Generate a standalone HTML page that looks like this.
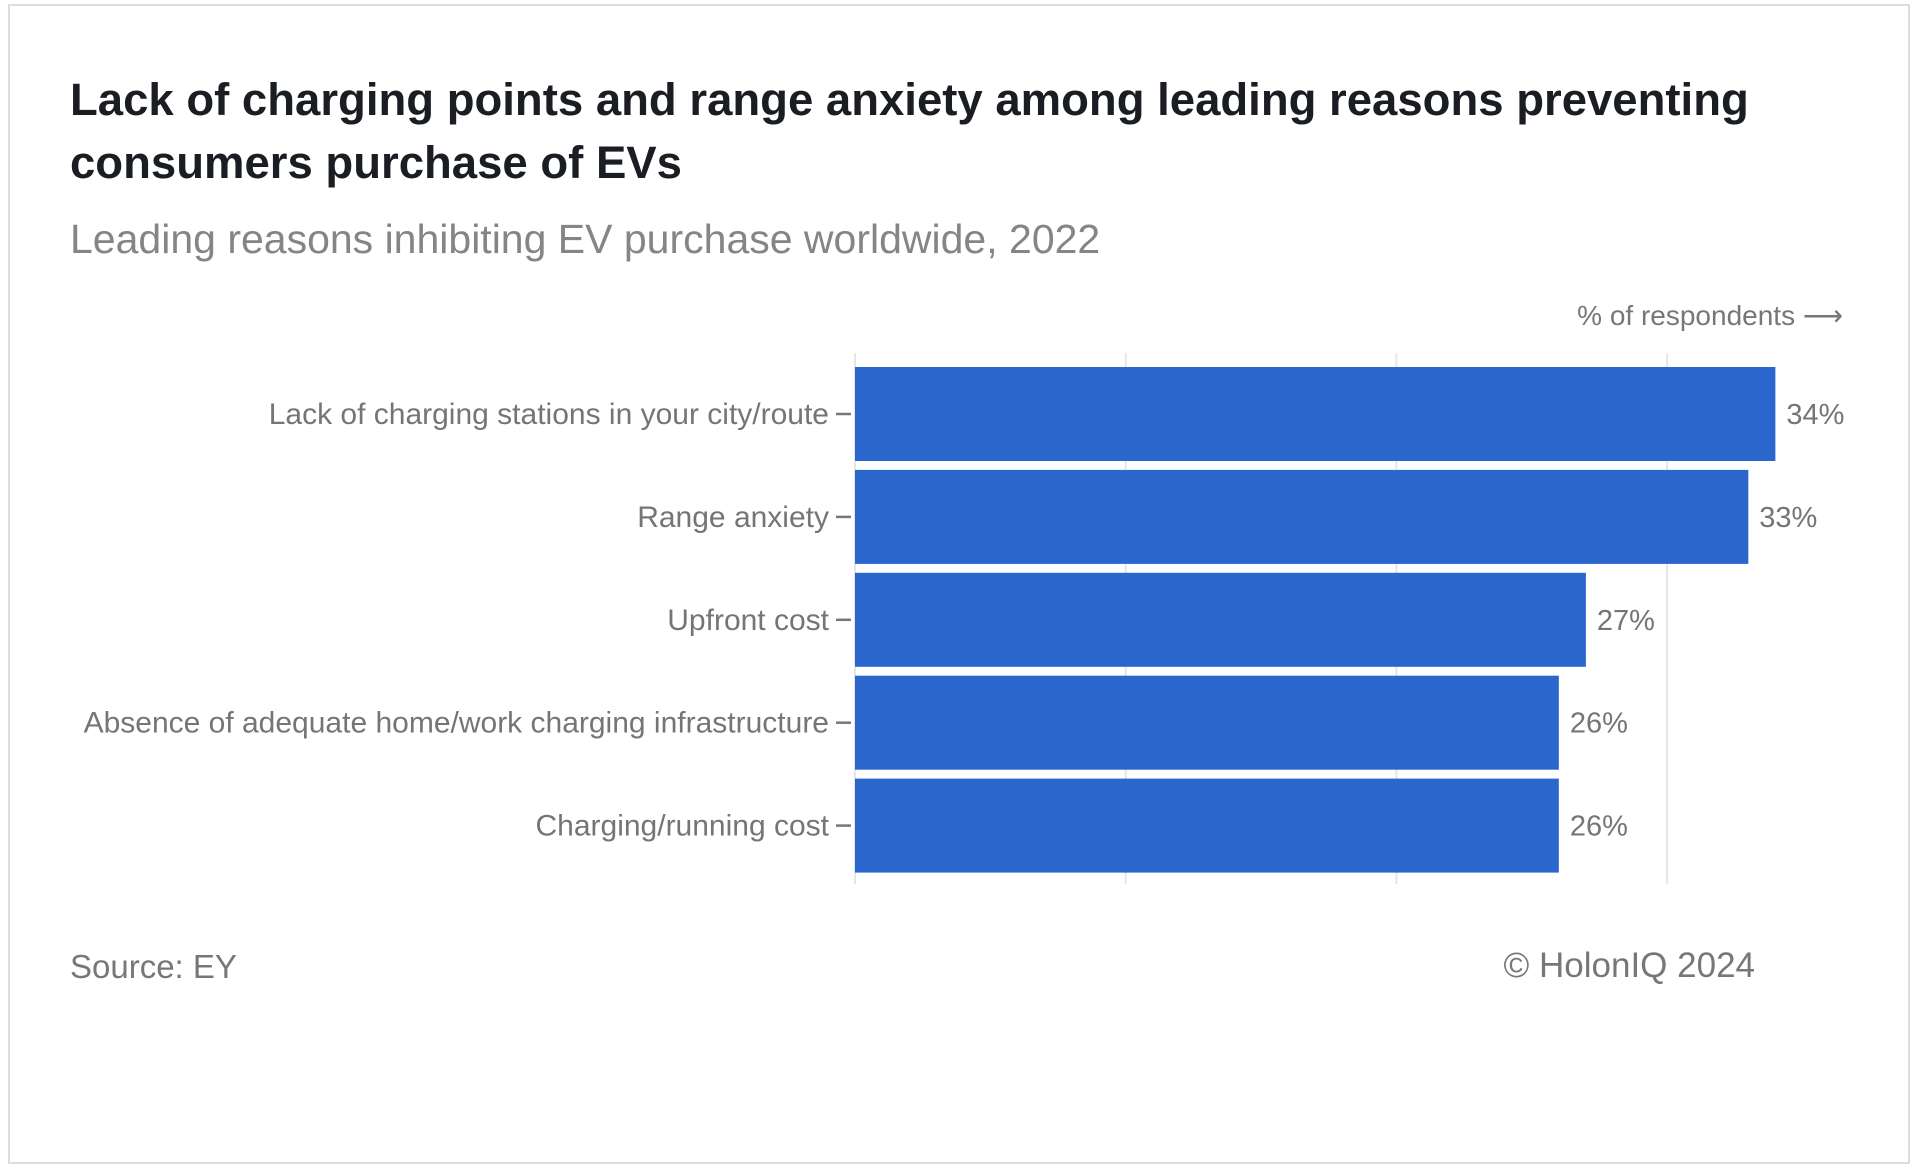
<!DOCTYPE html>
<html><head><meta charset="utf-8"><style>
html,body{margin:0;padding:0;background:#fff;}
body{width:1920px;height:1170px;position:relative;overflow:hidden;font-family:"Liberation Sans",sans-serif;}
#frame{position:absolute;left:8px;top:4px;width:1902px;height:1160px;border:2px solid #ddd;box-sizing:border-box;}
.t{position:absolute;white-space:nowrap;}
</style></head><body>
<div id="frame"></div>
<div class="t" style="left:70px;top:68px;font-size:45.5px;font-weight:bold;color:#1a1d22;line-height:63px;">Lack of charging points and range anxiety among leading reasons preventing<br>consumers purchase of EVs</div>
<div class="t" style="left:70px;top:216px;font-size:41px;color:#858585;">Leading reasons inhibiting EV purchase worldwide, 2022</div>
<svg id="chart" width="1920" height="1170" style="position:absolute;left:0;top:0;font-family:'Liberation Sans',sans-serif;"></svg>
<div class="t" style="left:70px;top:948px;font-size:33px;color:#777;">Source: EY</div>
<div class="t" style="right:165px;top:946px;font-size:35px;color:#777;">© HolonIQ 2024</div>
<script>
const categories = ["Lack of charging stations in your city/route","Range anxiety","Upfront cost","Absence of adequate home/work charging infrastructure","Charging/running cost"];
const values = [34,33,27,26,26];
const valueLabels = ["34%","33%","27%","26%","26%"];
const gridTicks = [0,10,20,30];
const NS="http://www.w3.org/2000/svg";
const svg=document.getElementById('chart');
const x0=855, pxPer=27.07, top0=367, pitch=102.9, barH=94, gridTop=353, gridBot=884;
function xs(v){return x0+v*pxPer;}
function ys(i){return top0+i*pitch;}
function mk(tag,attrs){const e=document.createElementNS(NS,tag);for(const k in attrs)e.setAttribute(k,attrs[k]);svg.appendChild(e);return e;}
gridTicks.forEach(t=>{
  const g=mk('line',{x1:xs(t),x2:xs(t),y1:gridTop,y2:gridBot,stroke:'#e6e6e6','stroke-width':2});
  
  
});
const ax=mk('text',{x:1843,y:325,'text-anchor':'end','font-size':28,fill:'#777'});
ax.textContent='% of respondents ⟶';


categories.forEach((c,i)=>{
  const y=ys(i), cy=y+barH/2;
  const r=mk('rect',{x:x0,y:y,width:xs(values[i])-x0,height:barH,fill:'#2B66CC'});
  
  
  const tk=mk('line',{x1:836,x2:851,y1:cy,y2:cy,stroke:'#777','stroke-width':2.5});
  
  
  const l=mk('text',{x:829,y:cy+10,'text-anchor':'end','font-size':30,fill:'#757575'});
  l.textContent=c;
  
  
  const v=mk('text',{x:xs(values[i])+11,y:cy+10,'font-size':29,fill:'#757575'});
  v.textContent=valueLabels[i];
  
  
});
</script>
</body></html>
